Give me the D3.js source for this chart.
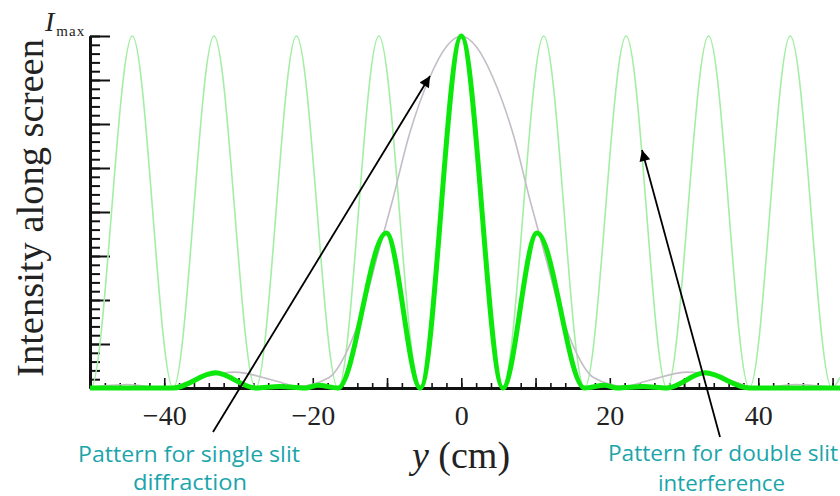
<!DOCTYPE html>
<html>
<head>
<meta charset="utf-8">
<script src="https://cdn.jsdelivr.net/npm/d3@7.9.0/dist/d3.min.js"></script>
<style>
  body { margin: 0; background: #fff; }
  svg { display: block; }
</style>
</head>
<body>
<svg id="chart" width="840" height="496"></svg>
<script>
// double slit interference (light green)
const doubleX = [-51, -49.9, -44.3, -38.8, -33.3, -27.7, -22.2, -16.6, -11.1, -5.55, 0, 5.55, 11.1, 16.6, 22.2, 27.7, 33.3, 38.8, 44.3, 49.9, 51];
const doubleI = [0.03, 0, 1, 0, 1, 0, 1, 0, 1, 0, 1, 0, 1, 0, 1, 0, 1, 0, 1, 0, 0.03];

// single slit envelope (grey)
const singleX = [-51, -45, -40, -35, -30.5, -25, -22, -17.8, -15.5, -13.3, -11.5, -9.3, -7, -4.3, -2, 0, 2, 4.3, 7, 9.3, 11.5, 13.3, 15.5, 17.8, 22, 25, 30.5, 35, 40, 45, 51];
const singleI = [0, 0.01, 0, 0.03, 0.045, 0.02, 0.005, 0.03, 0.1, 0.22, 0.36, 0.53, 0.72, 0.88, 0.97, 1, 0.97, 0.88, 0.72, 0.53, 0.36, 0.22, 0.1, 0.03, 0.005, 0.02, 0.045, 0.03, 0, 0.01, 0];

// combined pattern (bright green)
const comboX = [-51, -38.8, -33.1, -27.7, -24.5, -21, -19.3, -16.6, -10.1, -5.5, 0, 5.6, 10.2, 16.6, 19.3, 21, 24.5, 27.7, 32.8, 38.8, 51];
const comboI = [0, 0, 0.043, 0, 0.004, 0, 0.008, 0, 0.44, 0, 1, 0, 0.44, 0, 0.008, 0, 0.004, 0, 0.043, 0, 0];

const xLabelTicks = [-40, -20, 0, 20, 40];
const xMidTicks = [-50, -40, -30, -20, -10, 0, 10, 20, 30, 40, 50];

const svg = d3.select('#chart');
const x = d3.scaleLinear().domain([-50, 51]).range([90, 840]);
const y = d3.scaleLinear().domain([0, 1]).range([388, 36]);

svg.append('defs').append('clipPath').attr('id', 'plot')
  .append('rect').attr('x', 90).attr('y', 0).attr('width', 750).attr('height', 400);

// x axis: minor ticks every 2, taller every 10
let xMinor = svg.append('g').attr('transform', 'translate(0,388)')
  .call(d3.axisBottom(x).tickValues(d3.range(-50, 51, 2)).tickSize(-5).tickSizeOuter(0).tickFormat(''));
let xMid = svg.append('g').attr('transform', 'translate(0,388)')
  .call(d3.axisBottom(x).tickValues(xMidTicks).tickSize(-10).tickSizeOuter(0).tickFormat(''));
let xLab = svg.append('g').attr('transform', 'translate(0,388)')
  .call(d3.axisBottom(x).tickValues(xLabelTicks).tickSize(0).tickPadding(17).tickFormat(d => d < 0 ? '\u2212' + Math.abs(d) : d));
[xMinor, xMid, xLab].forEach(g => {
  g.selectAll('line').attr('stroke', '#111').attr('stroke-width', 1.6);
  g.select('.domain').attr('stroke', '#111').attr('stroke-width', 3);
});
xLab.selectAll('text').attr('font-family', 'Liberation Serif, serif').attr('font-size', 28).attr('fill', '#222');

// y axis: minor every 1/40, major every 1/8
let yMinor = svg.append('g').attr('transform', 'translate(90,0)')
  .call(d3.axisRight(y).tickValues(d3.range(0, 41).map(i => i / 40)).tickSize(10).tickSizeOuter(0).tickFormat(''));
let yMajor = svg.append('g').attr('transform', 'translate(90,0)')
  .call(d3.axisRight(y).tickValues(d3.range(0, 9).map(i => i / 8)).tickSize(20).tickSizeOuter(0).tickFormat(''));
[yMinor, yMajor].forEach(g => {
  g.selectAll('line').attr('stroke', '#111').attr('stroke-width', 2);
  g.select('.domain').attr('stroke', '#111').attr('stroke-width', 3);
});

// curves
const line = d3.line().x(d => x(d[0])).y(d => y(d[1])).curve(d3.curveMonotoneX);
const curves = svg.append('g').attr('clip-path', 'url(#plot)');
curves.append('path').datum(d3.zip(doubleX, doubleI)).attr('d', line)
  .attr('fill', 'none').attr('stroke', '#a2eea2').attr('stroke-width', 1.6);
curves.append('path').datum(d3.zip(singleX, singleI)).attr('d', line)
  .attr('fill', 'none').attr('stroke', '#c4bcc6').attr('stroke-width', 1.6);
curves.append('path').datum(d3.zip(comboX, comboI)).attr('d', line)
  .attr('fill', 'none').attr('stroke', '#0ce80c').attr('stroke-width', 5).attr('stroke-linejoin', 'round');

// axis titles
svg.append('text')
  .attr('transform', 'translate(43,208) rotate(-90)')
  .attr('text-anchor', 'middle')
  .attr('font-family', 'Liberation Serif, serif').attr('font-size', 38.5).attr('fill', '#222')
  .text('Intensity along screen');

let imax = svg.append('text').attr('x', 45).attr('y', 31)
  .attr('font-family', 'Liberation Serif, serif').attr('fill', '#222');
imax.append('tspan').attr('font-style', 'italic').attr('font-size', 28).text('I');
imax.append('tspan').attr('font-size', 15).attr('dx', 2).attr('dy', 5).attr('letter-spacing', 1).text('max');

let xt = svg.append('text').attr('x', 461).attr('y', 468).attr('text-anchor', 'middle')
  .attr('font-family', 'Liberation Serif, serif').attr('font-size', 38).attr('fill', '#222');
xt.append('tspan').attr('font-style', 'italic').text('y');
xt.append('tspan').text(' (cm)');

// arrows and notes
svg.select('defs').append('marker')
  .attr('id', 'head').attr('viewBox', '0 0 10 10').attr('refX', 10).attr('refY', 5)
  .attr('markerWidth', 14).attr('markerHeight', 11).attr('markerUnits', 'userSpaceOnUse')
  .attr('orient', 'auto')
  .append('path').attr('d', 'M0,0 L10,5 L0,10 Z').attr('fill', '#000');

const arrows = [
  { from: [213, 432], to: [430, 76] },
  { from: [720, 437], to: [642, 150] }
];
arrows.forEach(a => {
  svg.append('line')
    .attr('x1', a.from[0]).attr('y1', a.from[1]).attr('x2', a.to[0]).attr('y2', a.to[1])
    .attr('stroke', '#000').attr('stroke-width', 1.8).attr('marker-end', 'url(#head)');
});

const notes = [
  { text: 'Pattern for single slit', x: 78, y: 462, w: 222 },
  { text: 'diffraction', x: 133, y: 490, w: 114 },
  { text: 'Pattern for double slit', x: 608, y: 461, w: 230 },
  { text: 'interference', x: 658, y: 491, w: 127 }
];
notes.forEach(n => {
  svg.append('text').attr('x', n.x).attr('y', n.y)
    .attr('font-family', 'Open Sans, sans-serif').attr('font-size', 21).attr('fill', '#1ba5ab')
    .attr('textLength', n.w).attr('lengthAdjust', 'spacingAndGlyphs')
    .text(n.text);
});
</script>
</body>
</html>
